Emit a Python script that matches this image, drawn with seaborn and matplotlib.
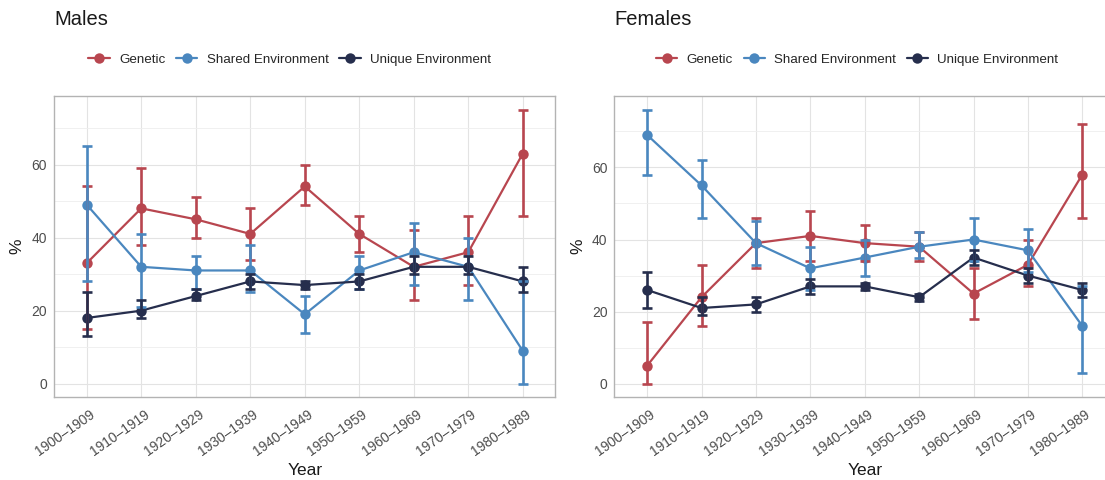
import matplotlib
matplotlib.use("Agg")
import matplotlib.pyplot as plt
import matplotlib.transforms as mtransforms
import seaborn as sns
import pandas as pd

# Decade categories (x axis)
decades = ['1900–1909', '1910–1919', '1920–1929', '1930–1939', '1940–1949',
           '1950–1959', '1960–1969', '1970–1979', '1980–1989']
components = ['Genetic', 'Shared Environment', 'Unique Environment']

# Males: estimate, lower, upper (%)
m_gen = [33, 48, 45, 41, 54, 41, 32, 36, 63]
m_gen_lo = [15, 38, 40, 34, 49, 36, 23, 27, 46]
m_gen_hi = [54, 59, 51, 48, 60, 46, 42, 46, 75]
m_sh = [49, 32, 31, 31, 19, 31, 36, 32, 9]
m_sh_lo = [28, 21, 26, 25, 14, 26, 27, 23, 0]
m_sh_hi = [65, 41, 35, 38, 24, 35, 44, 40, 28]
m_un = [18, 20, 24, 28, 27, 28, 32, 32, 28]
m_un_lo = [13, 18, 23, 26, 26, 26, 30, 30, 25]
m_un_hi = [25, 23, 26, 30, 28, 30, 35, 35, 32]

# Females: estimate, lower, upper (%)
f_gen = [5, 24, 39, 41, 39, 38, 25, 33, 58]
f_gen_lo = [0, 16, 32, 34, 34, 34, 18, 27, 46]
f_gen_hi = [17, 33, 46, 48, 44, 42, 32, 40, 72]
f_sh = [69, 55, 39, 32, 35, 38, 40, 37, 16]
f_sh_lo = [58, 46, 33, 26, 30, 35, 34, 31, 3]
f_sh_hi = [76, 62, 45, 38, 40, 42, 46, 43, 27]
f_un = [26, 21, 22, 27, 27, 24, 35, 30, 26]
f_un_lo = [21, 19, 20, 25, 26, 23, 33, 28, 24]
f_un_hi = [31, 24, 24, 29, 28, 25, 37, 32, 28]

palette = {'Genetic': '#B8464F', 'Shared Environment': '#4A87BF',
           'Unique Environment': '#262E4D'}


def make_df(est, lo, hi):
    rows = []
    for comp, e, l, h in zip(components, est, lo, hi):
        for d, ev, lv, hv in zip(decades, e, l, h):
            rows.append({'Year': d, 'Component': comp, 'pct': ev, 'lo': lv, 'hi': hv})
    return pd.DataFrame(rows)


males = make_df([m_gen, m_sh, m_un], [m_gen_lo, m_sh_lo, m_un_lo], [m_gen_hi, m_sh_hi, m_un_hi])
females = make_df([f_gen, f_sh, f_un], [f_gen_lo, f_sh_lo, f_un_lo], [f_gen_hi, f_sh_hi, f_un_hi])

sns.set_theme(style='whitegrid')
plt.rcParams['font.family'] = ['Liberation Sans', 'DejaVu Sans']

fig = plt.figure(figsize=(11.05, 4.8), dpi=100)
ax_m = fig.add_axes([0.0489, 0.172, 0.4538, 0.628])
ax_f = fig.add_axes([0.5561, 0.172, 0.4529, 0.628])

panels = [(ax_m, males, 'Males', (-3.75, 78.75), 0.47),
          (ax_f, females, 'Females', (-3.8, 79.8), 0.485)]

# small shift so rotated labels end just right of the tick, like ggplot
shift = mtransforms.ScaledTranslation(2.5 / 100, 0, fig.dpi_scale_trans)

for ax, df, title, ylim, leg_x in panels:
    sns.lineplot(data=df, x='Year', y='pct', hue='Component', hue_order=components,
                 palette=palette, marker='o', markersize=7.5, markeredgewidth=0,
                 linewidth=1.6, sort=False, ax=ax)
    for comp in components:
        sub = df[df['Component'] == comp]
        ax.errorbar(sub['Year'], sub['pct'],
                    yerr=[sub['pct'] - sub['lo'], sub['hi'] - sub['pct']],
                    fmt='none', ecolor=palette[comp], elinewidth=1.9,
                    capsize=3.8, capthick=1.9)

    ax.set_xlim(-0.6, 8.6)
    ax.set_ylim(*ylim)
    ax.set_yticks([0, 20, 40, 60])
    ax.set_yticks([10, 30, 50, 70], minor=True)
    ax.grid(which='major', color='#E3E3E3', linewidth=0.8)
    ax.grid(which='minor', axis='y', color='#EEEEEE', linewidth=0.6)
    ax.set_facecolor('white')
    for s in ax.spines.values():
        s.set_color('#B3B3B3')
        s.set_linewidth(1.0)
    ax.tick_params(which='major', length=3, width=0.6, color='#B3B3B3',
                   labelcolor='#4D4D4D', labelsize=10)
    ax.tick_params(axis='x', pad=4)
    ax.tick_params(axis='y', pad=2)
    ax.tick_params(which='minor', length=0)
    for lab in ax.get_xticklabels():
        lab.set_rotation(35)
        lab.set_ha('right')
        lab.set_va('top')
        lab.set_rotation_mode('anchor')
        lab.set_transform(lab.get_transform() + shift)
    ax.set_xlabel('Year', fontsize=12.5, color='#1A1A1A', labelpad=3)
    ax.set_ylabel('%', fontsize=12.5, color='#1A1A1A', labelpad=5)
    ax.set_title(title, loc='left', fontsize=14.5, color='#1A1A1A', pad=51)

    sns.move_legend(ax, 'center', bbox_to_anchor=(leg_x, 1.12), ncol=3,
                    frameon=False, title=None, fontsize=9.6, handlelength=1.6,
                    handletextpad=0.7, columnspacing=0.8)

fig.savefig('out.png', dpi=100)
